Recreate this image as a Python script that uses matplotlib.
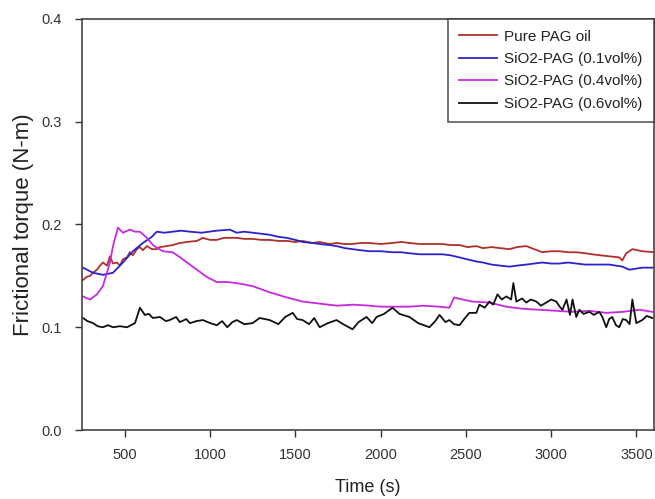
import numpy as np
import matplotlib
matplotlib.use("Agg")
import matplotlib.pyplot as plt

plt.rcParams['font.family'] = ['Liberation Sans', 'DejaVu Sans']

# Pure PAG oil
t_pure = [254, 275, 295, 313, 336, 354, 371, 395, 412, 430, 453, 471, 488, 512, 529, 547, 570,
          588, 605, 629, 658, 687, 705, 746, 781, 822, 863, 922, 957, 1000, 1039, 1080, 1115, 1156,
          1200, 1249, 1300, 1349, 1400, 1450, 1500, 1542, 1600, 1642, 1700, 1741, 1790, 1835, 1880,
          1934, 2000, 2069, 2120, 2169, 2230, 2286, 2362, 2410, 2462, 2510, 2561, 2600, 2650,
          2700, 2755, 2800, 2854, 2900, 2948, 3000, 3048, 3100, 3147, 3200, 3241, 3290, 3341,
          3399, 3417, 3440, 3476, 3534, 3604]
v_pure = [.146, .149, .150, .153, .156, .160, .163, .160, .169, .162, .163, .160, .166, .168, .173, .170, .176,
          .178, .175, .179, .176, .176, .178, .179, .180, .182, .183, .184, .187, .185, .185, .187, .187, .187,
          .186, .186, .185, .185, .184, .184, .183, .184, .182, .183, .181, .182, .181, .181, .182,
          .182, .181, .182, .183, .182, .181, .181, .181, .180, .180, .178, .179, .177, .178,
          .177, .176, .178, .179, .176, .173, .174, .174, .173, .173, .172, .171, .170, .169,
          .168, .165, .172, .176, .174, .173]

# SiO2-PAG 0.1 vol%
t_01 = [254, 313, 371, 430, 488, 547, 605, 658, 687, 730, 781, 830, 881, 950, 1039, 1115, 1156,
        1200, 1249, 1300, 1349, 1400, 1450, 1500, 1542, 1600, 1642, 1700, 1741, 1790, 1835, 1880,
        1934, 2000, 2069, 2120, 2169, 2230, 2286, 2362, 2410, 2461, 2510, 2561, 2600, 2650, 2700,
        2755, 2800, 2854, 2900, 2948, 3000, 3048, 3100, 3147, 3200, 3241, 3290, 3341, 3417,
        3458, 3534, 3604]
v_01 = [.158, .153, .151, .153, .163, .174, .182, .188, .193, .192, .193, .194, .193, .192, .194, .195, .192,
        .193, .192, .191, .190, .188, .187, .185, .183, .182, .181, .180, .179, .177, .176, .175,
        .174, .174, .173, .173, .172, .171, .171, .171, .170, .168, .166, .164, .163, .161, .160,
        .159, .160, .161, .162, .163, .162, .162, .163, .162, .161, .161, .161, .161, .159,
        .156, .158, .158]

# SiO2-PAG 0.4 vol%
t_04 = [254, 295, 336, 371, 412, 430, 459, 488, 529, 560, 588, 629, 664, 722, 781, 840, 922, 980,
        1039, 1100, 1156, 1249, 1349, 1450, 1542, 1642, 1741, 1840, 1934, 2000, 2069, 2169, 2250,
        2345, 2403, 2431, 2480, 2538, 2638, 2737, 2830, 2930, 3030, 3125, 3220, 3323, 3420, 3517, 3593]
v_04 = [.130, .127, .132, .140, .163, .179, .197, .192, .195, .193, .193, .187, .180, .174, .173, .166, .156, .149,
        .144, .144, .143, .140, .134, .129, .125, .123, .121, .122, .121, .120, .120, .120, .121,
        .120, .119, .129, .127, .125, .124, .120, .118, .117, .116, .115, .116, .114, .115, .117, .115]

# SiO2-PAG 0.6 vol%
t_06 = [254, 280, 313, 340, 371, 400, 430, 470, 512, 559, 588, 617, 640, 664, 705, 740, 763, 800,
        822, 860, 881, 920, 957, 1000, 1039, 1070, 1100, 1130, 1156, 1200, 1249, 1290, 1349, 1400,
        1440, 1484, 1510, 1542, 1580, 1610, 1642, 1690, 1741, 1780, 1835, 1870, 1917, 1950, 1976,
        2020, 2069, 2110, 2169, 2220, 2286, 2320, 2345, 2380, 2403, 2430, 2462, 2490, 2520, 2561,
        2579, 2610, 2638, 2660, 2685, 2710, 2737, 2765, 2778, 2796, 2830, 2854, 2880, 2913, 2940,
        2971, 3000, 3030, 3050, 3066, 3090, 3110, 3125, 3147, 3165, 3190, 3224, 3250, 3282, 3300,
        3323, 3340, 3358, 3380, 3399, 3420, 3440, 3460, 3476, 3499, 3534, 3560, 3593]
v_06 = [.109, .106, .104, .101, .100, .102, .100, .101, .100, .104, .119, .112, .113, .109, .110, .106, .107, .110,
        .105, .108, .104, .106, .107, .104, .102, .106, .100, .105, .107, .103, .104, .109, .107, .103,
        .110, .114, .108, .107, .103, .109, .100, .104, .107, .103, .098, .105, .110, .104, .110,
        .113, .119, .113, .110, .104, .100, .106, .112, .105, .107, .103, .102, .108, .114, .114,
        .122, .119, .125, .122, .132, .127, .130, .127, .143, .125, .128, .124, .127, .125, .121,
        .124, .127, .125, .120, .117, .127, .112, .127, .110, .117, .113, .115, .112, .115, .110,
        .100, .108, .110, .102, .100, .108, .107, .103, .127, .104, .107, .111, .109]

labels = ['Pure PAG oil', 'SiO2-PAG (0.1vol%)', 'SiO2-PAG (0.4vol%)', 'SiO2-PAG (0.6vol%)']
colors = ['#b0302a', '#2a22cc', '#c828e0', '#101010']

fig = plt.figure(figsize=(6.55, 4.99), dpi=100)
ax = fig.add_axes([82.3 / 655, 1 - 430 / 499, (653.5 - 82.3) / 655, (430 - 19) / 499])

for t, v, lab, c in zip([t_pure, t_01, t_04, t_06], [v_pure, v_01, v_04, v_06], labels, colors):
    ax.plot(t, v, color=c, lw=1.3, label=lab)

ax.set_xlim(250, 3600)
ax.set_ylim(0, 0.4)
ax.set_xticks([500, 1000, 1500, 2000, 2500, 3000, 3500])
ax.set_yticks([0.0, 0.1, 0.2, 0.3, 0.4])
ax.set_yticklabels(['0.0', '0.1', '0.2', '0.3', '0.4'])
ax.tick_params(axis='x', direction='out', length=5, width=1, pad=8, labelsize=10.5, colors='#333333')
ax.tick_params(axis='y', direction='out', length=5, width=1, pad=10, labelsize=10.5, colors='#333333')
for s in ax.spines.values():
    s.set_color('#444444')
    s.set_linewidth(1.2)

ax.set_xlabel('Time (s)', fontsize=13, color='#222222', labelpad=12)
ax.set_ylabel('Frictional torque (N-m)', fontsize=16, color='#222222', labelpad=5)

leg = ax.legend(loc='upper right', bbox_to_anchor=(1, 1), borderaxespad=0, fontsize=11,
                frameon=True, fancybox=False, handlelength=2.5, handletextpad=0.5,
                labelspacing=0.55, borderpad=0.7)
leg.get_frame().set_edgecolor('#333333')
leg.get_frame().set_linewidth(1.2)
for txt in leg.get_texts():
    txt.set_color('#222222')

fig.savefig('out.png', dpi=100)
